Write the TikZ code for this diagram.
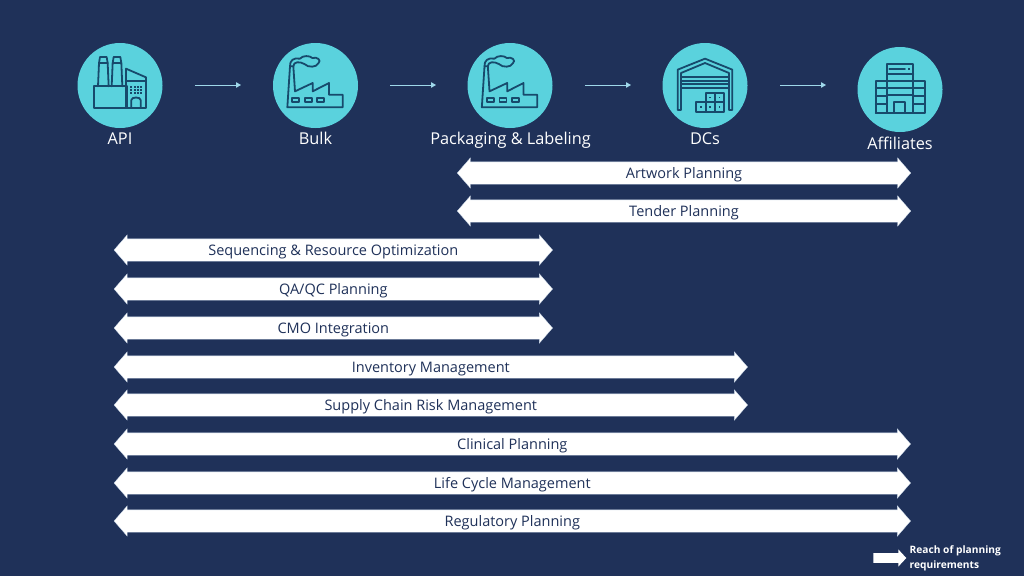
\documentclass[tikz,border=0pt]{standalone}
\usepackage{fontspec}
\setmainfont{Open Sans}
\usetikzlibrary{arrows.meta,shapes.arrows}
\definecolor{navy}{HTML}{1F3159}
\definecolor{teal}{HTML}{5AD2DD}
\definecolor{ink}{HTML}{174A6C}
\definecolor{flow}{HTML}{9FD8EA}
\definecolor{edge}{HTML}{C4D2E4}
\tikzset{
  stage/.style={circle,fill=teal,minimum size=85pt,inner sep=0pt},
  stagelabel/.style={text=white,font=\fontsize{16.3}{18}\selectfont,inner sep=0pt,text height=12pt,text depth=0pt},
  flowline/.style={draw=flow,line width=0.9pt,-{Triangle[length=5pt,width=5.5pt]}},
  icon/.style={draw=ink,line width=1.8pt,line join=round,line cap=round},
  reach/.style={double arrow,fill=white,draw=edge,line width=0.3pt,inner sep=0pt,inner xsep=0pt,
    text=navy,font=\fontsize{14.5}{16}\selectfont,text height=16pt,text depth=6pt,
    minimum width=30pt,double arrow head extend=4pt,double arrow tip angle=98,anchor=center},
}
\newcommand\factoryicon[2]{%
  \begin{scope}[shift={(#1,#2)},scale=1/3]
    \draw[icon] (67,208) -- (233,208) -- (233,170) -- (192,170) -- (192,135) -- (143,160) -- (143,135) -- (90,160) -- (85,85) -- (75,85) -- cycle;
    \foreach \wx in {82,120,157} \draw[icon] (\wx,181) rectangle ++(21,12);
    \draw[icon] (75,85) .. controls (74,68) and (85,58) .. (105,62) .. controls (112,52) and (135,52) .. (142,60) .. controls (158,55) and (170,68) .. (160,76) .. controls (155,88) and (130,90) .. (118,78) .. controls (105,70) and (85,70) .. (85,85);
  \end{scope}}
\begin{document}
\begin{tikzpicture}[x=1pt,y=-1pt]
\useasboundingbox[fill=navy] (0,0) rectangle (1024,576);
% stages
\node[stage] (api)  at (120,85.5) {};
\node[stage] (bulk) at (315.5,85.5) {};
\node[stage] (pack) at (510,85.5) {};
\node[stage] (dcs)  at (705,85.5) {};
\node[stage] (aff)  at (900,89.5) {};
\node[stagelabel] (apil)  at (120,138) {API};
\node[stagelabel] (bulkl) at (315.5,138) {Bulk};
\node[stagelabel] (packl) at (510.5,138) {Packaging \& Labeling};
\node[stagelabel] (dcsl)  at (705,138) {DCs};
\node[stagelabel] (affl)  at (900,143) {Affiliates};
% flow arrows
\coordinate (a1) at (195,85); \coordinate (a2) at (241,85);
\coordinate (b1) at (390,85); \coordinate (b2) at (436,85);
\coordinate (c1) at (585,85); \coordinate (c2) at (631,85);
\coordinate (d1) at (780,85); \coordinate (d2) at (826,85);
\draw[flowline] (a1) -- (a2);
\draw[flowline] (b1) -- (b2);
\draw[flowline] (c1) -- (c2);
\draw[flowline] (d1) -- (d2);
% API icon
\begin{scope}[shift={(70,38)},scale=1/3]
  \draw[icon] (72,145) rectangle (170,210);
  \draw[icon] (84,145) -- (87,75) -- (90,57) -- (110,57) -- (113,75) -- (116,145);
  \draw[icon] (87,75) -- (113,75);
  \draw[icon] (125,145) -- (128,75) -- (131,57) -- (151,57) -- (154,75) -- (157,145);
  \draw[icon] (128,75) -- (154,75);
  \draw[icon] (168,92) -- (228,118) -- (228,210) -- (168,210) -- cycle;
  \draw[icon] (168,130) -- (228,130);
  \foreach \wy in {143,153,163} \foreach \wx in {181,191,201,211}
    \fill[ink] (\wx,\wy) rectangle ++(6,6);
  \draw[icon] (184,210) -- (184,186) .. controls (184,176) and (212,176) .. (212,186) -- (212,210);
\end{scope}
% factories
\factoryicon{265}{38}
\factoryicon{459.5}{38}
% DC icon
\begin{scope}[shift={(655,38)},scale=1/3]
  \draw[icon] (68,216) -- (68,95) -- (150,62) -- (232,95) -- (232,216) -- (222,216) -- (222,105) -- (150,75) -- (78,105) -- (78,216) -- cycle;
  \draw[icon] (78,118) -- (222,118);
  \draw[icon] (78,128) -- (222,128);
  \draw[icon] (78,138) -- (222,138);
  \draw[icon] (78,149) -- (222,149);
  \draw[icon] (124,193) rectangle (208,222);
  \draw[icon] (152,165) rectangle (208,193);
  \draw[icon] (152,193) -- (152,222);
  \draw[icon] (180,165) -- (180,222);
  \foreach \bx/\by in {135/204,163/204,191/204,163/176,191/176}
    \fill[ink] (\bx,\by) rectangle ++(5,5);
\end{scope}
% Affiliates icon
\begin{scope}[shift={(850,40)},scale=1/3]
  \draw[icon] (110,218) -- (110,73) -- (190,73) -- (190,218);
  \draw[icon] (118,88) -- (165,88);
  \fill[ink] (175,85) rectangle ++(6,6);
  \draw[icon] (110,103) -- (190,103);
  \draw[icon] (110,123) -- (190,123);
  \draw[icon] (110,145) -- (190,145);
  \draw[icon] (110,165) -- (190,165);
  \draw[icon] (133,218) -- (133,186) -- (165,186) -- (165,218);
  \draw[icon] (77,218) -- (77,123) -- (110,123);
  \draw[icon] (190,123) -- (225,123) -- (225,218) -- (77,218);
  \foreach \ly in {145,168,192} {\draw[icon] (77,\ly) -- (110,\ly); \draw[icon] (190,\ly) -- (225,\ly);}
\end{scope}
% planning reach arrows
\node[reach,minimum height=453.5pt] (art) at (684,173) {Artwork Planning};
\node[reach,minimum height=453.5pt] (ten) at (684,211) {Tender Planning};
\node[reach,minimum height=438.5pt] (seq) at (333.3,250) {Sequencing \& Resource Optimization};
\node[reach,minimum height=438.5pt] (qa)  at (333.3,289) {QA/QC Planning};
\node[reach,minimum height=438.5pt] (cmo) at (333.3,328) {CMO Integration};
\node[reach,minimum height=633.5pt] (inv) at (430.8,367) {Inventory Management};
\node[reach,minimum height=633.5pt] (scr) at (430.8,405) {Supply Chain Risk Management};
\node[reach,minimum height=796.5pt] (cli) at (512.3,444) {Clinical Planning};
\node[reach,minimum height=796.5pt] (lif) at (512.3,483) {Life Cycle Management};
\node[reach,minimum height=796.5pt] (reg) at (512.3,521) {Regulatory Planning};
% legend
\node[single arrow,fill=white,inner sep=0pt,text height=9.5pt,minimum width=17pt,minimum height=33pt,single arrow head extend=3.7pt,single arrow tip angle=94] (leg) at (887.5,558) {};
\node[text=white,font=\fontsize{10.2}{15}\selectfont\bfseries,align=left,anchor=west,inner sep=0pt] (legt) at (909.5,558.5) {Reach of planning\\requirements};
\end{tikzpicture}
\end{document}
